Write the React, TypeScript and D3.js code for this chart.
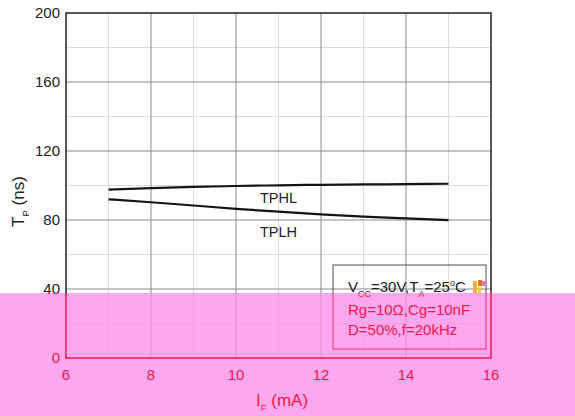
import * as d3 from "d3";

const W = 575;
const H = 416;

const currentMA = [7, 8, 9, 10, 11, 12, 13, 14, 15];
const tphl = [97.6, 98.5, 99.2, 99.7, 100.1, 100.4, 100.6, 100.8, 101.0];
const tplh = [92.0, 90.3, 88.4, 86.5, 84.8, 83.3, 82.0, 80.9, 79.9];

const xTicks = [6, 8, 10, 12, 14, 16];
const xMinor = [7, 9, 11, 13, 15];
const yTicks = [0, 40, 80, 120, 160, 200];
const yMinor = [20, 60, 100, 140, 180];

const noteLines = ["Rg=10\u03A9,Cg=10nF", "D=50%,f=20kHz"];

const margin = { top: 13, right: 84, bottom: 58, left: 66 };
const x = d3.scaleLinear().domain([6, 16]).range([margin.left, W - margin.right]);
const y = d3.scaleLinear().domain([0, 200]).range([H - margin.bottom, margin.top]);

const line = d3
  .line<number>()
  .x((_, i) => x(currentMA[i]))
  .y((d) => y(d))
  .curve(d3.curveMonotoneX);

const font = "'Liberation Sans', Arial, sans-serif";
const PINK_TOP = 293;

function Layer({ ink, major, minor, curve }: { ink: string; major: string; minor: string; curve: string }) {
  const [x0, x1] = x.range();
  const [y0, y1] = y.range();
  return (
    <g fontFamily={font}>
      {xMinor.map((v) => (
        <line key={"xm" + v} x1={x(v)} x2={x(v)} y1={y0} y2={y1} stroke={minor} strokeWidth={1} />
      ))}
      {yMinor.map((v) => (
        <line key={"ym" + v} x1={x0} x2={x1} y1={y(v)} y2={y(v)} stroke={minor} strokeWidth={1} />
      ))}
      {xTicks.slice(1, -1).map((v) => (
        <line key={"xg" + v} x1={x(v)} x2={x(v)} y1={y0} y2={y1} stroke={major} strokeWidth={1} />
      ))}
      {yTicks.slice(1, -1).map((v) => (
        <line key={"yg" + v} x1={x0} x2={x1} y1={y(v)} y2={y(v)} stroke={major} strokeWidth={1} />
      ))}
      <rect x={x0} y={y1} width={x1 - x0} height={y0 - y1} fill="none" stroke={ink} strokeWidth={1.5} />

      <path d={line(tphl) || ""} fill="none" stroke={curve} strokeWidth={2.2} />
      <path d={line(tplh) || ""} fill="none" stroke={curve} strokeWidth={2.2} />
      <text x={x(11)} y={y(90)} fontSize={14.5} textAnchor="middle" fill={ink}>TPHL</text>
      <text x={x(11)} y={y(70.3)} fontSize={14.5} textAnchor="middle" fill={ink}>TPLH</text>

      {yTicks.map((v) => (
        <text key={"yt" + v} x={x0 - 6} y={y(v) + 5} fontSize={15} textAnchor="end" fill={ink}>{v}</text>
      ))}
      {xTicks.map((v) => (
        <text key={"xt" + v} x={x(v)} y={y0 + 22} fontSize={15} textAnchor="middle" fill={ink}>{v}</text>
      ))}

      <text x={256} y={406} fontSize={17} fill={ink}>
        I<tspan fontSize={9.5} dy={5}>F</tspan><tspan dy={-5}> (mA)</tspan>
      </text>
      <text transform={`translate(24,${y(76)}) rotate(-90)`} fontSize={17} fill={ink}>
        T<tspan fontSize={9.5} dy={5}>P</tspan><tspan dy={-5}> (ns)</tspan>
      </text>

      <rect x={333} y={265} width={153} height={84} fill="none" stroke={ink} strokeWidth={1} opacity={0.8} />
      <text x={348} y={292} fontSize={15} fill={ink}>
        V<tspan fontSize={9} dy={5}>CC</tspan><tspan dy={-5}>=30V,T</tspan><tspan fontSize={9} dy={5}>A</tspan>
        <tspan dy={-5}>=25</tspan><tspan fontSize={9} dy={-6}>o</tspan><tspan dy={6}>C</tspan>
      </text>
      {noteLines.map((t, i) => (
        <text key={t} x={348} y={315 + i * 19.5} fontSize={15} fill={ink}>{t}</text>
      ))}
    </g>
  );
}

export default function App() {
  return (
    <svg
      width={W}
      height={H}
      style={{ position: "absolute", left: 0, top: 0, display: "block", background: "#fff" }}
    >
      <defs>
        <clipPath id="pinkband">
          <rect x={0} y={PINK_TOP} width={W} height={H - PINK_TOP} />
        </clipPath>
      </defs>
      <Layer ink="#222" major="#8a8a8a" minor="#dcdcdc" curve="#151515" />
      <g clipPath="url(#pinkband)">
        <rect x={0} y={0} width={W} height={H} fill="#fca7f0" />
        <Layer ink="#f2174c" major="#e88ad8" minor="#f7a0e8" curve="#f2174c" />
      </g>
      <g>
        <rect x={473} y={281} width={4} height={12} fill="#f9b233" />
        <rect x={478} y={280} width={4} height={6} fill="#e8742a" />
        <rect x={482} y={281} width={5} height={5} fill="#c888c8" />
        <rect x={478} y={287} width={3} height={6} fill="#f5d040" />
      </g>
    </svg>
  );
}
